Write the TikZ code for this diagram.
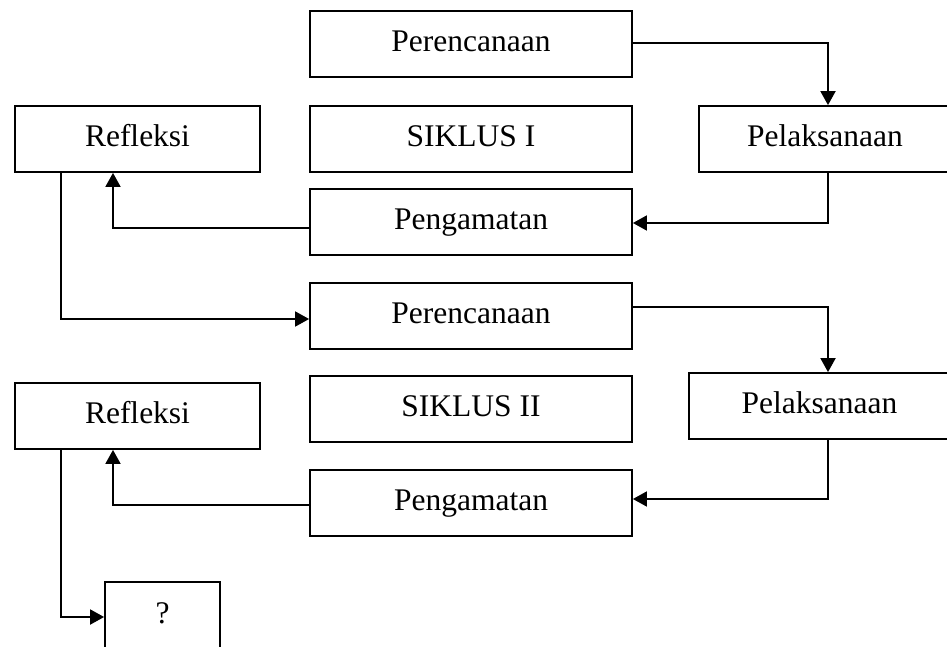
\documentclass[tikz,border=0pt]{standalone}
\usepackage{fontspec}
\setmainfont{Liberation Serif}
\usetikzlibrary{arrows.meta}
\tikzset{
  box/.style={draw=black, line width=1.8pt, fill=white, inner sep=0pt,
    font=\fontsize{31.5}{36}\selectfont, text height=22pt, text depth=7pt},
  wide/.style={box, minimum width=322pt, minimum height=66pt},
  side/.style={box, minimum width=245pt, minimum height=66pt},
  arr/.style={line width=1.8pt, -{Triangle[length=14pt,width=15pt]}}
}
\begin{document}
\begin{tikzpicture}[x=1pt,y=-1pt]
\useasboundingbox (0,0) rectangle (947,646);
\clip (0,0) rectangle (947,646);
\fill[white] (0,0) rectangle (947,646);
% cycle I
\node[wide] (per1) at (471,44) {Perencanaan};
\node[side] (ref1) at (137.5,139) {Refleksi};
\node[wide] (sik1) at (471,139) {SIKLUS I};
\node[box, minimum width=252pt, minimum height=66pt] (pel1) at (825,139) {Pelaksanaan};
\node[wide] (pen1) at (471,222) {Pengamatan};
% cycle II
\node[wide] (per2) at (471,316) {Perencanaan};
\node[side] (ref2) at (137.5,416) {Refleksi};
\node[wide] (sik2) at (471,409) {SIKLUS II};
\node[box, minimum width=261pt, minimum height=66pt] (pel2) at (819.5,406) {Pelaksanaan};
\node[wide] (pen2) at (471,503) {Pengamatan};
\node[box, minimum width=115pt, minimum height=68pt] (q) at (162.5,616) {?};
% connectors
\draw[arr] ([yshift=1pt]per1.east) -| ([xshift=3pt]pel1.north);
\draw[arr] ([xshift=3pt]pel1.south) |- ([yshift=-1pt]pen1.east);
\draw[arr] ([yshift=-6pt]pen1.west) -| ([xshift=-24.5pt]ref1.south);
\draw[arr] ([xshift=-76.5pt]ref1.south) |- ([yshift=-3pt]per2.west);
\draw[arr] ([yshift=9pt]per2.east) -| ([xshift=8.5pt]pel2.north);
\draw[arr] ([xshift=8.5pt]pel2.south) |- ([yshift=4pt]pen2.east);
\draw[arr] ([yshift=-2pt]pen2.west) -| ([xshift=-24.5pt]ref2.south);
\draw[arr] ([xshift=-76.5pt]ref2.south) |- ([yshift=-1pt]q.west);
\end{tikzpicture}
\end{document}
